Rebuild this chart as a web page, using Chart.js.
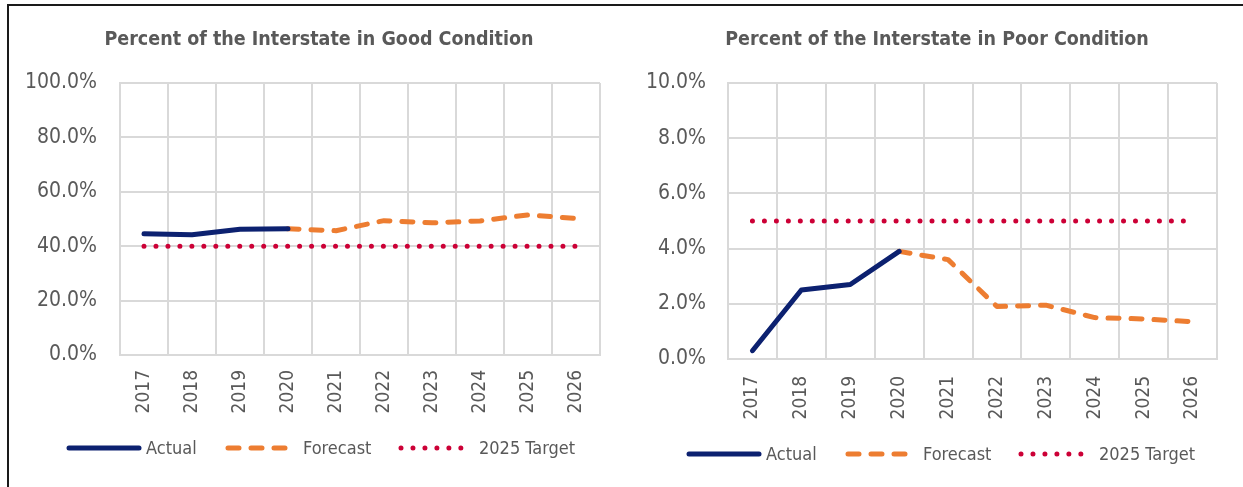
<!DOCTYPE html>
<html>
<head>
<meta charset="utf-8">
<script src="https://cdn.jsdelivr.net/npm/chart.js@4/dist/chart.umd.min.js"></script>
<style>
  html, body { margin: 0; padding: 0; background: #fff; }
  body { width: 1243px; height: 487px; position: relative; overflow: hidden; }
  #frame { position: absolute; left: 7px; top: 4px; width: 1240px; height: 490px;
           border-top: 2px solid #1a1a1a; border-left: 2px solid #1a1a1a; box-sizing: border-box; }
  .wrap { position: absolute; top: 0; height: 487px; }
  #w1 { left: 0; width: 620px; }
  #w2 { left: 620px; width: 623px; }
</style>
</head>
<body>
<div id="frame"></div>
<div class="wrap" id="w1"><canvas id="c1" width="620" height="487"></canvas></div>
<div class="wrap" id="w2"><canvas id="c2" width="623" height="487"></canvas></div>
<script>
// ---- data ----
const years = ['2017', '2018', '2019', '2020', '2021', '2022', '2023', '2024', '2025', '2026'];

const goodTitle = 'Percent of the Interstate in Good Condition';
const goodActual   = [44.6, 44.2, 46.2, 46.4, null, null, null, null, null, null];
const goodForecast = [null, null, null, 46.4, 45.7, 49.4, 48.6, 49.3, 51.5, 50.2];
const goodTarget   = [40, 40, 40, 40, 40, 40, 40, 40, 40, 40];
const goodTicks    = [0, 20, 40, 60, 80, 100];

const poorTitle = 'Percent of the Interstate in Poor Condition';
const poorActual   = [0.3, 2.5, 2.7, 3.9, null, null, null, null, null, null];
const poorForecast = [null, null, null, 3.9, 3.6, 1.9, 1.95, 1.5, 1.45, 1.35];
const poorTarget   = [5, 5, 5, 5, 5, 5, 5, 5, 5, 5];
const poorTicks    = [0, 2, 4, 6, 8, 10];

const seriesNames = ['Actual', 'Forecast', '2025 Target'];

// ---- styles ----
const NAVY = '#0c2170';
const ORANGE = '#ED7D31';
const CRIMSON = '#CC0036';
const TEXT = '#595959';
const GRID_MAJOR = '#d9d9d9';
const GRID_MINOR = '#efefef';
const FONT = "'DejaVu Sans Condensed', 'DejaVu Sans', sans-serif";

function makeChart(canvasId, o) {
  const minor = (o.ticks[1] - o.ticks[0]) / 2;
  const isMajor = v => o.ticks.includes(Math.round(v * 100) / 100);
  const titleLegend = {
    id: 'titleLegend',
    afterDraw(chart) {
      const ctx = chart.ctx;
      ctx.save();
      ctx.fillStyle = TEXT;
      ctx.font = "bold 19.5px " + FONT;
      ctx.textAlign = 'center';
      ctx.textBaseline = 'middle';
      ctx.fillText(o.title, o.titleX, 40);
      // legend
      const items = [
        { x0: 69, x1: 139, tx: 146 },
        { x0: 228, x1: 290, tx: 303 },
        { x0: 401, x1: 462, tx: 479 }
      ];
      ctx.font = "18px " + FONT;
      ctx.textAlign = 'left';
      chart.data.datasets.forEach((ds, i) => {
        const it = items[i];
        ctx.save();
        ctx.strokeStyle = ds.borderColor;
        ctx.lineWidth = ds.borderWidth;
        ctx.lineCap = ds.borderCapStyle || 'butt';
        ctx.setLineDash(ds.borderDash || []);
        ctx.beginPath();
        ctx.moveTo(it.x0, o.legendY);
        ctx.lineTo(it.x1, o.legendY);
        ctx.stroke();
        ctx.restore();
        ctx.fillStyle = TEXT;
        ctx.fillText(ds.label, it.tx, o.legendY + 1);
      });
      ctx.restore();
    }
  };

  return new Chart(document.getElementById(canvasId), {
    type: 'line',
    data: {
      labels: years,
      datasets: [
        { label: seriesNames[0], data: o.actual, borderColor: NAVY, borderWidth: 5,
          borderCapStyle: 'round', borderJoinStyle: 'round', pointRadius: 0, tension: 0, spanGaps: false },
        { label: seriesNames[1], data: o.forecast, borderColor: ORANGE, borderWidth: 5,
          borderCapStyle: 'round', borderJoinStyle: 'round', borderDash: [11, 12], pointRadius: 0, tension: 0 },
        { label: seriesNames[2], data: o.target, borderColor: CRIMSON, borderWidth: 5,
          borderCapStyle: 'round', borderDash: [0, 11.97], pointRadius: 0, tension: 0 }
      ]
    },
    options: {
      responsive: false,
      animation: false,
      events: [],
      layout: { padding: { left: o.padLeft, right: o.padRight, top: o.top, bottom: o.padBottom } },
      plugins: { legend: { display: false }, title: { display: false }, tooltip: { enabled: false } },
      scales: {
        x: {
          offset: true,
          grid: { offset: true, color: GRID_MAJOR, lineWidth: 2, drawTicks: false },
          border: { display: true, color: GRID_MAJOR, width: 2 },
          ticks: { color: TEXT, font: { family: FONT, size: 19 }, minRotation: 90, maxRotation: 90,
                   padding: o.xPad, autoSkip: false },
          afterFit(s) { s.height = o.xHeight; s.paddingLeft = 0; s.paddingRight = 0; }
        },
        y: {
          min: o.ticks[0], max: o.ticks[o.ticks.length - 1],
          grid: {
            drawTicks: false,
            color: c => (isMajor(c.tick.value) ? GRID_MAJOR : GRID_MINOR),
            lineWidth: c => (isMajor(c.tick.value) ? 2 : 1.5)
          },
          border: { display: true, color: GRID_MAJOR, width: 2 },
          ticks: {
            stepSize: minor,
            color: TEXT, font: { family: FONT, size: 21 }, padding: o.yPad,
            callback: v => (isMajor(v) ? v.toFixed(1) + '%' : '')
          },
          afterFit(s) { s.width = o.yWidth; s.paddingTop = 0; s.paddingBottom = 0; }
        }
      }
    },
    plugins: [titleLegend]
  });
}

makeChart('c1', {
  title: goodTitle, actual: goodActual, forecast: goodForecast, target: goodTarget, ticks: goodTicks,
  padLeft: 10, padRight: 20, yWidth: 110, top: 83, xHeight: 60, padBottom: 487 - 355 - 60,
  xPad: 15, yPad: 23, titleX: 319, legendY: 448
});
makeChart('c2', {
  title: poorTitle, actual: poorActual, forecast: poorForecast, target: poorTarget, ticks: poorTicks,
  padLeft: 10, padRight: 26, yWidth: 98, top: 83, xHeight: 60, padBottom: 487 - 359 - 60,
  xPad: 17, yPad: 22, titleX: 937 - 620, legendY: 454
});
</script>
</body>
</html>
